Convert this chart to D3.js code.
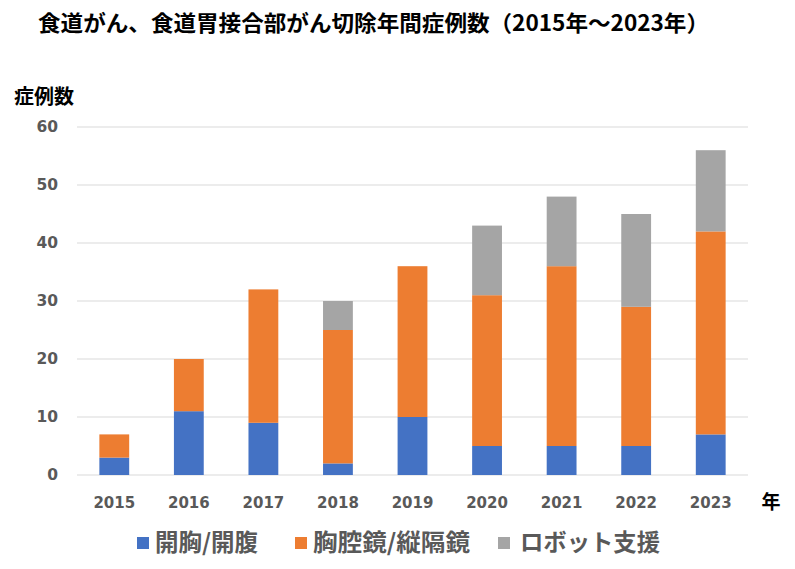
<!DOCTYPE html>
<html>
<head>
<meta charset="utf-8">
<script src="https://cdn.jsdelivr.net/npm/d3@7"></script>
<style>
  body { margin: 0; background: #fff; }
  .jp { font-family: "Noto Sans CJK JP", sans-serif; font-weight: bold; }
  .num { font-family: "DejaVu Sans", sans-serif; font-weight: bold; }
</style>
</head>
<body>
<div id="chart"></div>
<script>
var years = ["2015", "2016", "2017", "2018", "2019", "2020", "2021", "2022", "2023"];
var seriesNames = ["開胸/開腹", "胸腔鏡/縦隔鏡", "ロボット支援"];
var openValues = [3, 11, 9, 2, 10, 5, 5, 5, 7];
var thoracoValues = [4, 9, 23, 23, 26, 26, 31, 24, 35];
var robotValues = [0, 0, 0, 5, 0, 12, 12, 16, 14];
var yTicks = [0, 10, 20, 30, 40, 50, 60];
var colors = ["#4472C4", "#ED7D31", "#A5A5A5"];

var svgWidth = 795;
var svgHeight = 569;
var margin = { top: 127, right: 47, bottom: 94, left: 77 };
var width = svgWidth - margin.left - margin.right;
var height = svgHeight - margin.top - margin.bottom;

var svg = d3.select("#chart")
  .append("svg")
  .attr("width", svgWidth)
  .attr("height", svgHeight);

// title
svg.append("text")
  .attr("class", "jp")
  .attr("x", 38)
  .attr("y", 31)
  .attr("font-size", 22)
  .attr("textLength", 671)
  .attr("lengthAdjust", "spacingAndGlyphs")
  .attr("fill", "#000")
  .text("食道がん、食道胃接合部がん切除年間症例数（2015年～2023年）");

svg.append("text")
  .attr("class", "jp")
  .attr("x", 14)
  .attr("y", 104)
  .attr("font-size", 20)
  .attr("fill", "#000")
  .text("症例数");

var chartGroup = svg.append("g")
  .attr("transform", `translate(${margin.left}, ${margin.top})`);

var x = d3.scaleBand()
  .domain(years)
  .range([0, width])
  .paddingInner(0.6)
  .paddingOuter(0.3);

var y = d3.scaleLinear()
  .domain([0, 60])
  .range([height, 0]);

// gridlines
chartGroup.append("g")
  .selectAll("line")
  .data(yTicks)
  .enter()
  .append("line")
  .attr("x1", 0)
  .attr("x2", width)
  .attr("y1", d => y(d))
  .attr("y2", d => y(d))
  .attr("stroke", "#d9d9d9")
  .attr("stroke-width", 1);

// y axis labels
var leftAxis = d3.axisLeft(y).tickValues(yTicks).tickSize(0).tickPadding(19);
var yAxis = chartGroup.append("g").call(leftAxis);
yAxis.select(".domain").remove();
yAxis.selectAll("text")
  .attr("class", "num")
  .attr("font-size", 15.5)
  .attr("fill", "#595959");

// stacked bars
var table = years.map((yr, i) => ({
  year: yr,
  open: openValues[i],
  thoraco: thoracoValues[i],
  robot: robotValues[i]
}));
var stack = d3.stack().keys(["open", "thoraco", "robot"]);
var layers = stack(table);

chartGroup.selectAll(".layer")
  .data(layers)
  .enter()
  .append("g")
  .attr("fill", (d, i) => colors[i])
  .selectAll("rect")
  .data(d => d)
  .enter()
  .append("rect")
  .attr("x", d => x(d.data.year))
  .attr("width", x.bandwidth())
  .attr("y", d => y(d[1]))
  .attr("height", d => y(d[0]) - y(d[1]));

// x axis labels
var bottomAxis = d3.axisBottom(x).tickSize(0).tickPadding(22);
var xAxis = chartGroup.append("g")
  .attr("transform", `translate(0, ${height})`)
  .call(bottomAxis);
xAxis.select(".domain").remove();
xAxis.selectAll("text")
  .attr("class", "num")
  .attr("font-size", 15)
  .attr("fill", "#595959");

svg.append("text")
  .attr("class", "jp")
  .attr("x", 771)
  .attr("y", 509)
  .attr("text-anchor", "middle")
  .attr("font-size", 19)
  .attr("fill", "#000")
  .text("年");

// legend
var legendStarts = [137, 295, 498];
var legendTextX = [18, 18, 22];
var legendTextLen = [103, 157, 140];
var legend = svg.append("g");
seriesNames.forEach(function(name, i) {
  var item = legend.append("g").attr("transform", `translate(${legendStarts[i]}, 0)`);
  item.append("rect")
    .attr("x", 0)
    .attr("y", 537)
    .attr("width", 12)
    .attr("height", 12)
    .attr("fill", colors[i]);
  item.append("text")
    .attr("class", "jp")
    .attr("x", legendTextX[i])
    .attr("y", 551)
    .attr("font-size", 23.5)
    .attr("fill", "#595959")
    .attr("textLength", legendTextLen[i])
    .attr("lengthAdjust", "spacingAndGlyphs")
    .text(name);
});
</script>
</body>
</html>
